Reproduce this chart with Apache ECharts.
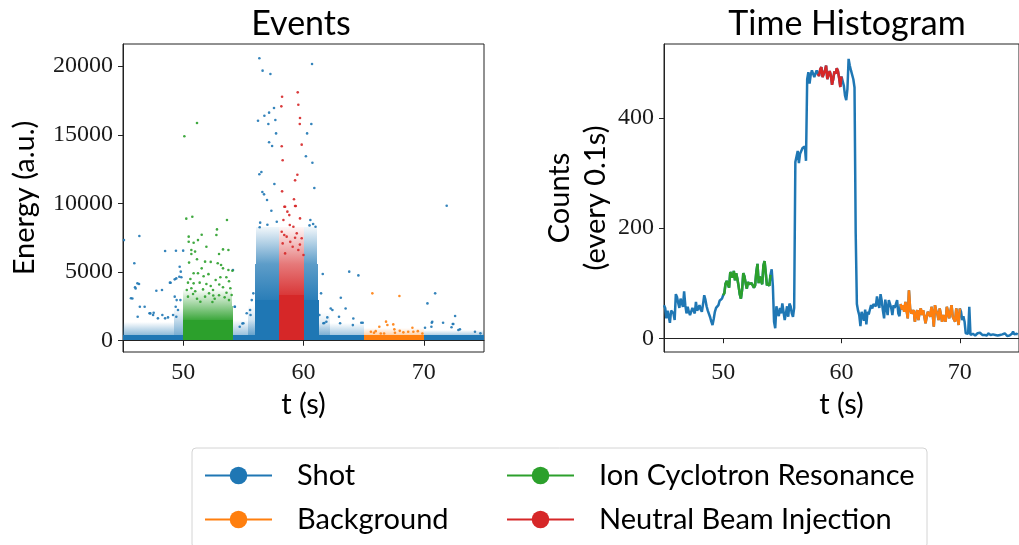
<!DOCTYPE html>
<html><head><meta charset="utf-8">
<script src="https://cdn.jsdelivr.net/npm/echarts@6/dist/echarts.min.js"></script>
<style>html,body{margin:0;padding:0;background:#fff}#c{width:1019px;height:545px}</style>
</head><body><div id="c"></div><script>
// ---------- DATA ----------
const seriesNames = ['Shot', 'Background', 'Ion Cyclotron Resonance', 'Neutral Beam Injection'];
const xTicks = [50, 60, 70];
const energyTicks = [0, 5000, 10000, 15000, 20000];
const countTicks = [0, 200, 400];

// Time histogram: counts per 0.1 s bin, starting at t = 45.0 s
const histStart = 45;
const histBin = 0.1;
const histCounts = [
 60,55,36,50,40,28,50,48,45,33,
 80,75,64,55,72,70,57,85,60,45,
 57,48,42,39,55,52,45,66,50,54,
 60,52,48,62,78,70,58,50,47,38,
 30,24,35,48,55,52,60,68,66,72,
 78,82,99,104,98,92,120,115,110,122,
 105,118,108,95,80,72,88,118,112,100,
 90,102,98,95,100,96,92,96,120,135,
 100,112,104,98,132,140,118,96,100,95,
 115,125,95,30,18,58,46,40,55,45,
 63,60,33,45,58,39,63,58,45,39,
 55,320,330,340,318,335,338,345,342,348,
 322,470,483,462,478,486,484,474,480,486,
 480,476,488,492,474,480,486,495,470,478,
 485,477,460,470,484,480,490,485,472,456,
 475,478,458,440,432,452,507,495,486,484,
 470,455,190,62,50,42,22,48,40,32,
 52,25,48,43,52,60,54,62,64,58,
 76,62,55,80,68,50,36,70,55,42,
 69,72,55,42,60,55,58,69,45,40,
 62,52,60,48,66,50,36,87,54,45,
 45,51,30,44,51,33,48,54,42,51,
 40,27,39,48,44,39,57,46,21,60,
 50,45,33,54,42,30,42,36,30,57,
 48,36,48,60,39,42,30,54,40,24,
 54,48,33,40,30,9,6,8,57,6,
 7,8,7,5,6,9,12,10,7,6,
 8,6,7,5,9,7,6,8,7,4,
 6,7,5,8,6,4,7,5,9,6,
 4,7,5,6,8,12,7,6,8,7
];
const icrWindow = [50, 54];
const nbiWindow = [58, 60];
const bgWindow = [65, 70];

// Event density: [t0, t1, E0, E1, fill at E0, fill at E1]
const shotDensity = [
 [45, 75, 60, 430, 1, 1],
 [45, 49.2, 430, 1400, 0.5, 0],
 [49.2, 50, 430, 2400, 0.6, 0],
 [54.05, 56, 430, 1500, 0.45, 0],
 [55.4, 56, 430, 2600, 0.4, 0],
 [61.2, 65, 430, 1300, 0.4, 0],
 [61.2, 62.2, 430, 2100, 0.3, 0],
 [70, 75, 430, 800, 0.35, 0],
 [55.95, 58, 60, 3000, 1, 1],
 [60, 61.25, 60, 3000, 1, 1],
 [56.0, 58, 3000, 5600, 0.95, 0.72],
 [60, 61.2, 3000, 5600, 0.95, 0.72],
 [56.05, 58, 5600, 8300, 0.72, 0.06],
 [60, 61.15, 5600, 8300, 0.72, 0.06]
];
const bgDensity = [
 [65, 70.05, 60, 430, 1, 1],
 [65, 70, 430, 900, 0.35, 0]
];
const icrDensity = [
 [49.95, 54.1, 60, 1500, 1, 1],
 [49.95, 54.1, 1500, 2500, 0.92, 0.5],
 [50, 54.05, 2500, 3800, 0.5, 0]
];
const nbiDensity = [
 [58, 60.05, 60, 3300, 1, 1],
 [58, 60.05, 3300, 5600, 0.92, 0.62],
 [58, 60.0, 5600, 8300, 0.62, 0.04]
];

// Individually visible events [t (s), energy (a.u.)]
const shotEvents = [
 [45.08,7330],[46.36,7630],[45.94,5640],[46.0,3890],[46.2,4180],[45.66,3090],[46.4,2480],[46.8,2480],
 [47.2,2000],[47.5,1870],[48.5,6530],[49.4,6555],[50.0,6560],[47.77,3640],[48.24,3690],[48.96,4225],
 [49.3,4470],[49.46,2960],[49.68,4660],[49.8,5030],[48.5,1630],[54.3,2480],[55.6,1870],[46.33,4130],
 [46.05,3800],[45.78,3080],[46.22,1750],[47.27,1990],[47.55,2040],[48.9,4230],[49.43,4540],[49.85,4620],
 [49.3,3210],[49.71,5390],[47.9,1630],[48.27,1870],[48.74,1700],[49.16,1870],[49.38,2480],[49.57,2240],
 [49.77,2960],[49.43,1750],[54.14,5150],[54.28,2480],[54.7,1020],[54.92,1260],
 [55.28,2000],[55.56,2240],[55.0,1270],[55.7,2960],[55.83,3450],
 [61.6,4860],[63.8,5030],[64.56,4760],[63.1,3130],[62.4,2240],[61.46,3450],[61.9,1385],[62.95,1750],
 [64.1,1140],[64.8,1310],[62.26,2350],[61.98,1700],[61.32,1870],[63.5,2350],[64.14,1620],[63.04,1270],
 [61.65,1270],[61.73,1290],[64.92,1310],
 [70.3,2720],[70.7,1385],[70.94,3450],[71.9,9830],[71.6,1310],[72.6,1800],[72.4,1215],[70.66,1310],
 [70.63,1020],[72.3,980],[72.45,1220],[72.87,780],[73.0,830],[74.25,660],[74.7,540],[70.1,950],
 [56.33,20570],[56.6,19670],[57.25,19430],[60.71,20150],[56.22,16020],[56.75,16390],[57.14,16610],
 [57.55,16950],[57.66,16070],[57.08,15780],[57.72,15100],[57.14,14450],[57.39,14180],[60.65,15780],
 [60.3,15100],[60.2,13430],[60.74,12960],[60.9,11120],[56.33,12120],[56.5,12290],[57.58,11410],
 [56.58,10830],[56.72,10660],[56.97,10250],[57.33,9470],[57.78,8670],[56.36,8260],[60.57,8790],
 [56.4,8600],[57.0,8450],[60.5,8400],[60.8,8500],[61.0,8300]
];
const bgEvents = [
 [65.72,3450],[67.97,3260],[66.86,1390],[66.97,1150],[66.3,1020],[67.46,1190],[67.55,830],[69.05,950],
 [69.13,660],[68.3,610],[68.7,660],[66.42,530],[66.7,530],[67.6,580],[69.88,530],[65.6,650],[65.86,580],
 [66.0,700],[68.0,720],[69.5,700]
];
const icrEvents = [
 [50.1,14890],[51.15,15860],
 [50.26,8890],[50.76,9030],[53.64,8790],[52.81,8110],[50.46,7580],[51.54,7720],[52.76,7700],
 [50.46,7210],[50.87,7140],[51.23,7330],[51.93,6850],[50.68,6610],[50.99,6490],[53.31,6650],[53.76,6610],
 [52.98,6320],[50.68,6320],[50.49,5690],[51.15,5930],[51.82,5760],[52.29,5740],[52.87,5640],[53.15,5520],
 [51.54,5270],[50.87,4910],[51.23,4910],[53.31,5270],[53.76,5150],[54.09,5100],[50.40,4230],[50.87,4180],
 [51.37,4230],[51.93,4130],[52.29,3990],[52.70,4420],[53.09,4620],[53.59,4620],[53.81,4330],[50.68,3820],
 [51.65,3740],[52.48,3690],[53.31,3890],[53.92,3820],[50.40,3210],[50.82,3400],[51.15,3060],[51.82,3210],
 [52.15,3450],[52.62,3060],[52.98,3310],[53.45,3160],[53.81,2960],[54.03,3330],[51.43,2840],[52.43,2820],
 [50.6,4500],[51.0,3600],[51.7,4700],[52.1,4850],[52.5,3300],[53.0,4100],[53.6,3500],[50.3,3700]
];
const nbiEvents = [
 [59.52,18090],[58.22,17770],[58.16,17070],[59.57,17190],[59.71,16220],[59.69,15780],[58.19,14160],
 [59.85,14280],[58.27,13140],[59.49,12090],[59.3,11680],[58.22,10880],[59.21,10300],[58.41,9760],
 [59.36,9810],[58.47,9760],[58.82,9150],[59.3,9810],[58.66,9400],[58.33,8790],[59.71,8910],[58.86,8430],
 [59.16,8300],[58.19,7940],[59.44,7820],[58.6,7580],[59.85,7460],[58.27,7090],[59.1,6850],[59.57,6610],
 [58.47,6360],[60.0,6240],[58.9,7200],[59.3,7500],[58.4,7700],[59.7,7000]
];

// ---------- BUILD ----------
const C = {Shot:'#1f77b4', Background:'#ff7f0e', 'Ion Cyclotron Resonance':'#2ca02c', 'Neutral Beam Injection':'#d62728'};
const histPts = histCounts.map((c, i) => [+(histStart + i * histBin).toFixed(1), c]);
const inWin = (w) => histPts.filter(p => p[0] >= w[0] - 1e-9 && p[0] <= w[1] + 1e-9);
function rgba(hex, a) {
  const n = parseInt(hex.slice(1), 16);
  return 'rgba(' + (n >> 16) + ',' + ((n >> 8) & 255) + ',' + (n & 255) + ',' + a + ')';
}

const SANS = 'Lato';
const SERIF = 'Liberation Serif';

function lineSeries(name, data) {
  return {type:'line', name, xAxisIndex:1, yAxisIndex:1, data, symbol:'circle', showSymbol:false,
    color:C[name], lineStyle:{width:2.5, color:C[name]}, itemStyle:{color:C[name]}, animation:false, z:3};
}
function densitySeries(name, data, z) {
  return {type:'custom', name, xAxisIndex:0, yAxisIndex:0, data, z, clip:true,
    dimensions:['t0','t1','e0','e1','f0','f1'], encode:{x:[0,1], y:[2,3]}, animation:false, silent:true,
    renderItem(params, api) {
      const a = api.coord([api.value(0), api.value(3)]);
      const b = api.coord([api.value(1), api.value(2)]);
      const x0 = Math.round(a[0]), y0 = Math.round(a[1]), x1 = Math.round(b[0]), y1 = Math.round(b[1]);
      const fill = new echarts.graphic.LinearGradient(0, 0, 0, 1, [
        {offset:0, color:rgba(C[name], api.value(5))},
        {offset:1, color:rgba(C[name], api.value(4))}
      ]);
      return {type:'rect', shape:{x:x0, y:y0, width:x1-x0, height:y1-y0}, style:{fill}};
    }};
}
function scatterSeries(name, data, z) {
  return {type:'scatter', name, xAxisIndex:0, yAxisIndex:0, data, symbolSize:2.6, z,
    itemStyle:{color:C[name], opacity:0.9}, animation:false, silent:true};
}

const axisCommon = {
  splitLine:{show:false},
  axisLine:{show:true, lineStyle:{color:'#222', width:1}},
  axisTick:{show:true, inside:false, length:5, lineStyle:{color:'#222', width:1}},
  nameTextStyle:{fontFamily:SANS, fontSize:29, color:'#000'}
};
const plain = v => String(v);
function xAx(gridIndex, min, max) {
  return Object.assign({}, axisCommon, {type:'value', gridIndex, min, max, name:'t (s)', nameLocation:'middle', nameGap:38,
    axisTick:Object.assign({}, axisCommon.axisTick, {customValues:xTicks}),
    axisLabel:{customValues:xTicks, formatter:plain, fontFamily:SERIF, fontSize:24, color:'#1a1a1a', margin:9}});
}
function yAx(gridIndex, min, max, ticks, name, gap) {
  return Object.assign({}, axisCommon, {type:'value', gridIndex, min, max, name, nameLocation:'middle', nameGap:gap,
    nameTextStyle:{fontFamily:SANS, fontSize:29, color:'#000', lineHeight:36},
    axisTick:Object.assign({}, axisCommon.axisTick, {customValues:ticks}),
    axisLabel:{customValues:ticks, formatter:plain, fontFamily:SERIF, fontSize:24, color:'#1a1a1a', margin:10}});
}

const legendCommon = {orient:'horizontal', itemWidth:67, itemHeight:22, padding:0, itemGap:0, selectedMode:false,
  textStyle:{fontFamily:SANS, fontSize:29, color:'#000', padding:[0,0,0,20]}};

const option = {
  backgroundColor:'#fff',
  animation:false,
  grid:[
    {left:123, top:44, width:361, height:308, show:true, borderColor:'#222', borderWidth:1, backgroundColor:'transparent'},
    {left:664, top:44, width:359, height:308, show:true, borderColor:'#222', borderWidth:1, backgroundColor:'transparent'}
  ],
  xAxis:[xAx(0, 45, 75), xAx(1, 45, 75)],
  yAxis:[yAx(0, -820, 21610, energyTicks, 'Energy (a.u.)', 80), yAx(1, -25, 534, countTicks, 'Counts\n(every 0.1s)', 50)],
  legend:[
    Object.assign({}, legendCommon, {data:['Shot'], left:204, top:461}),
    Object.assign({}, legendCommon, {data:['Background'], left:204, top:505}),
    Object.assign({}, legendCommon, {data:['Ion Cyclotron Resonance'], left:506, top:461}),
    Object.assign({}, legendCommon, {data:['Neutral Beam Injection'], left:506, top:505})
  ],
  graphic:[
    {type:'rect', z:-10, shape:{x:192, y:448, width:735, height:100, r:4}, style:{fill:'#fff', stroke:'#d4d4d4', lineWidth:1}},
    {type:'text', x:301, y:24, style:{text:'Events', fontFamily:SANS, fontSize:34, fill:'#000', align:'center', verticalAlign:'middle'}},
    {type:'text', x:847, y:24, style:{text:'Time Histogram', fontFamily:SANS, fontSize:34, fill:'#000', align:'center', verticalAlign:'middle'}}
  ],
  series:[
    lineSeries('Shot', histPts),
    lineSeries('Background', inWin(bgWindow)),
    lineSeries('Ion Cyclotron Resonance', inWin(icrWindow)),
    lineSeries('Neutral Beam Injection', inWin(nbiWindow)),
    densitySeries('Shot', shotDensity, 1),
    scatterSeries('Shot', shotEvents, 2),
    densitySeries('Background', bgDensity, 3),
    scatterSeries('Background', bgEvents, 4),
    densitySeries('Ion Cyclotron Resonance', icrDensity, 3),
    scatterSeries('Ion Cyclotron Resonance', icrEvents, 4),
    densitySeries('Neutral Beam Injection', nbiDensity, 3),
    scatterSeries('Neutral Beam Injection', nbiEvents, 4)
  ]
};
const chart = echarts.init(document.getElementById('c'), null, {renderer:'canvas'});
chart.setOption(option);
</script></body></html>
